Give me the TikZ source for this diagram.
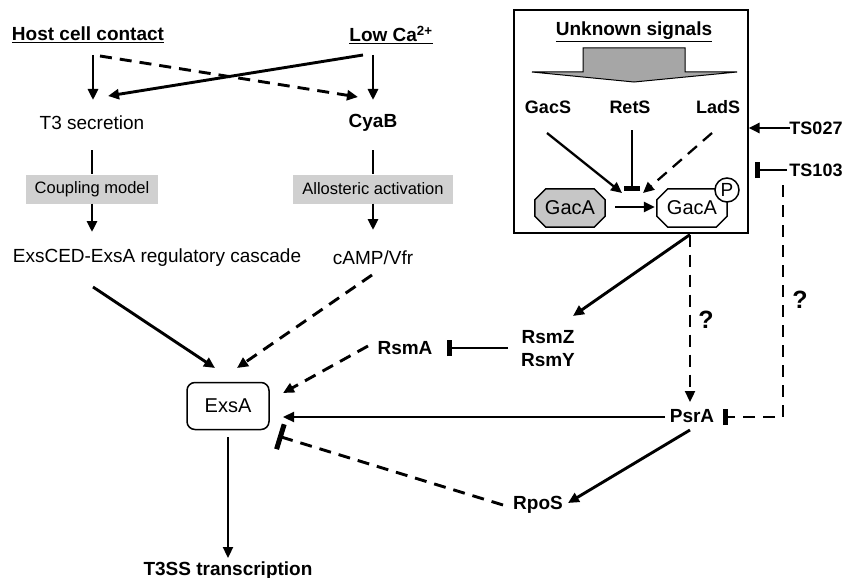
\documentclass[tikz,border=0pt]{standalone}
\usepackage{fontspec}
\setmainfont{Liberation Sans}
\usetikzlibrary{arrows.meta,calc}
\definecolor{boxgray}{HTML}{D0D0D0}
\definecolor{octgray}{HTML}{C6C6C6}
\definecolor{arrgray}{HTML}{A6A6A6}
\newcommand\octpath[2]{%
  \draw[line width=1.5pt,fill=#2] ($(#1.north west)+(11,0)$) -- ($(#1.north east)+(-11,0)$) -- ($(#1.north east)+(0,11)$) -- ($(#1.south east)+(0,-11)$) -- ($(#1.south east)+(-11,0)$) -- ($(#1.south west)+(11,0)$) -- ($(#1.south west)+(0,-11)$) -- ($(#1.north west)+(0,11)$) -- cycle;}
\begin{document}
\begin{tikzpicture}[x=1pt,y=-1pt,
  lbl/.style={inner sep=1pt, font=\fontsize{19}{22}\selectfont},
  blbl/.style={inner sep=1pt, font=\fontsize{19}{23}\selectfont\bfseries},
  slbl/.style={inner sep=1pt, font=\fontsize{18}{21}\selectfont\bfseries},
  qlbl/.style={inner sep=1pt, font=\fontsize{25}{28}\selectfont\bfseries},
  graybox/.style={fill=boxgray, minimum height=29pt, inner xsep=9pt, inner ysep=0pt, font=\fontsize{16.5}{19}\selectfont},
  octnode/.style={minimum width=70pt, minimum height=38pt, inner sep=0pt, font=\fontsize{20}{23}\selectfont},
  act/.style={line width=2.9pt, -{Triangle[length=11pt,width=10pt]}},
  thin/.style={line width=2.3pt},
  dsh/.style={dash pattern=on 12pt off 8pt},
  inh/.style={line width=2.9pt, -{Bar[width=16pt,line width=5pt]}},
  biginh/.style={line width=2.9pt, -{Bar[width=26pt,line width=5pt]}},
  plain/.style={line width=2.9pt}]
\useasboundingbox (0,0) rectangle (844,578);

% left column nodes
\node[blbl] (host) at (88,35) {\underline{Host cell contact}};
\node[blbl] (lowca) at (391,35) {\underline{Low Ca\textsuperscript{2+}}};
\node[lbl] (t3) at (92,123) {T3 secretion};
\node[blbl] (cyab) at (373,123) {CyaB};
\node[graybox] (coupling) at (92,189) {Coupling model};
\node[graybox] (allo) at (373,189) {Allosteric activation};
\node[lbl] (cascade) at (157,258) {ExsCED-ExsA regulatory cascade};
\node[lbl] (camp) at (373,258) {cAMP/Vfr};
\node[draw, line width=1.5pt, rounded corners=8pt, minimum width=82pt, minimum height=47pt, font=\fontsize{20}{23}\selectfont] (exsa) at (228,406) {ExsA};
\node[blbl, anchor=base] (t3ss) at (228,575) {T3SS transcription};
\node[blbl] (rsma) at (405,348) {RsmA};
\node[blbl, align=center] (rsmzy) at (548,349) {RsmZ\\RsmY};
\node[blbl] (psra) at (692,416) {PsrA};
\node[blbl] (rpos) at (538,505) {RpoS};

% signalling box
\node[draw, line width=1.2pt, minimum width=234pt, minimum height=223pt, inner sep=0pt] (bigbox) at (631,121.5) {};
\node[blbl] (unknown) at (634,32) {\underline{Unknown signals}};
\draw[line width=1pt, fill=arrgray] (583,48) -- (685,48) -- (685,72) -- (737,72) -- (634,82) -- (532,72) -- (583,72) -- cycle;
\node[slbl] (gacs) at (548,107) {GacS};
\node[slbl] (rets) at (630,107) {RetS};
\node[slbl] (lads) at (718,107) {LadS};
\node[octnode] (gaca) at (570,208) {};
\octpath{gaca}{octgray}
\node[octnode] at (gaca) {GacA};
\node[octnode] (gacap) at (692,208) {};
\octpath{gacap}{white}
\node[octnode] at (gacap) {GacA};
\node[draw, circle, line width=1.5pt, fill=white, minimum size=24pt, inner sep=0pt, font=\fontsize{19}{20}\selectfont] (phos) at (727,190) {P};
\coordinate (meet) at (632,192);

\node[slbl] (ts027) at (816,128) {TS027};
\node[slbl] (ts103) at (816,170) {TS103};
\node[qlbl] (q1) at (706,320) {?};
\node[qlbl] (q2) at (800,300) {?};

% left column connectors
\draw[act] ($(host)+(5,20)$) -- ($(t3)+(1,-23)$);
\draw[act, dsh] ($(host)+(12,21)$) -- ($(cyab)+(-15,-26)$);
\draw[act] ($(lowca)+(-28,20)$) -- ($(t3)+(16,-27)$);
\draw[act] ($(lowca)+(-18,20)$) -- ($(cyab)+(0,-23)$);
\draw[plain] ($(t3)+(0,27)$) -- (coupling.north);
\draw[act] (coupling.south) -- ($(cascade)+(-65,-26)$);
\draw[plain] ($(cyab)+(0,27)$) -- (allo.north);
\draw[act] (allo.south) -- ($(camp)+(0,-28)$);
\draw[act] ($(cascade)+(-64,29)$) -- ($(exsa)+(-13,-38)$);
\draw[act, dsh] ($(camp)+(-1,17)$) -- ($(exsa)+(9,-38)$);
\draw[act, dsh] ($(rsma)+(-37,-2)$) -- ($(exsa)+(55,-13)$);
\draw[act, thin] (exsa.south) ++(0,7) -- ($(t3ss.base)+(0,-17)$);

% right part connectors
\draw[inh] ($(rsmzy)+(-40,-1)$) -- ($(rsma)+(42,0)$);
\draw[act] ($(gacap |- bigbox.south)+(-2,1)$) -- ($(rsmzy)+(25,-33)$);
\draw[act, thin, dsh] ($(gacap |- bigbox.south)+(-2,1)$) -- ($(psra)+(-2,-14)$);
\draw[act, thin] ($(psra)+(-27,1)$) -- ($(exsa)+(55,11)$);
\draw[act] ($(psra)+(-2,14)$) -- ($(rpos)+(30,-2)$);
\draw[biginh, dsh] ($(rpos)+(-35,0)$) -- ($(exsa)+(50,30)$);
\draw[inh, thin, dsh] ($(ts103)+(-33,15)$) -- ($(psra)+(91,1)$) -- ($(psra)+(31,1)$);
\draw[inh] ($(ts103)+(-29,0)$) -- ($(bigbox.east |- ts103)+(6,0)$);
\draw[act] ($(ts027)+(-26,0)$) -- (bigbox.east |- ts027);

% box connectors
\draw[act, thin] ($(gacs)+(-1,26)$) -- ($(meet)+(-10,1)$);
\draw[inh] ($(rets)+(2,23)$) -- ($(meet)+(0,-1)$);
\draw[act, thin, dsh] ($(lads)+(-6,26)$) -- ($(meet)+(11,1)$);
\draw[act] ($(gaca.east)+(10,-1)$) -- ($(gacap.west)+(-2,-1)$);
\end{tikzpicture}
\end{document}
